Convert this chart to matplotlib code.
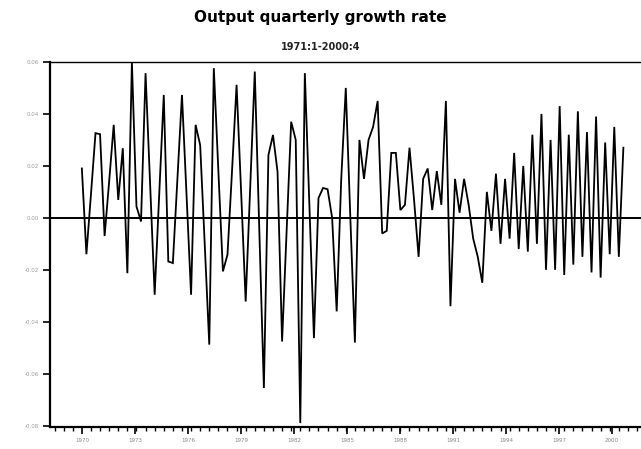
import matplotlib
matplotlib.use("Agg")
import matplotlib.pyplot as plt
from matplotlib.ticker import MultipleLocator
import numpy as np

title = "Output quarterly growth rate"
subtitle = "1971:1-2000:4"
start_year = 1971
growth = [
    0.019, -0.014, 0.009, 0.0326, 0.0322, -0.007, 0.014, 0.0358, 0.0069, 0.0268,
    -0.0213, 0.060, 0.0044, -0.0014, 0.0557, 0.013, -0.0296, 0.009, 0.0473, -0.0168,
    -0.0174, 0.015, 0.0473, 0.009, -0.0296, 0.0358, 0.028, -0.010, -0.0488, 0.0576,
    0.018, -0.0206, -0.0142, 0.018, 0.0512, 0.010, -0.0322, 0.012, 0.0563, -0.005,
    -0.0655, 0.0242, 0.0319, 0.0178, -0.0476, -0.005, 0.037, 0.030, -0.079, 0.0557,
    0.005, -0.0463, 0.0076, 0.0115, 0.011, 0.000, -0.036, 0.015, 0.050, 0.000,
    -0.048, 0.030, 0.015, 0.030, 0.035, 0.045, -0.006, -0.005, 0.025, 0.025,
    0.003, 0.005, 0.027, 0.007, -0.015, 0.015, 0.019, 0.003, 0.018, 0.005,
    0.045, -0.034, 0.015, 0.002, 0.015, 0.005, -0.008, -0.015, -0.025, 0.010,
    -0.005, 0.017, -0.010, 0.015, -0.008, 0.025, -0.012, 0.020, -0.013, 0.032,
    -0.010, 0.040, -0.020, 0.030, -0.020, 0.043, -0.022, 0.032, -0.018, 0.041,
    -0.015, 0.033, -0.021, 0.039, -0.023, 0.029, -0.014, 0.035, -0.015, 0.027,
]
y_ticks = [-0.08, -0.06, -0.04, -0.02, 0.00, 0.02, 0.04, 0.06]
y_tick_labels = ["-0.08", "-0.06", "-0.04", "-0.02", "0.00", "0.02", "0.04", "0.06"]
x_tick_labels = ["1970", "1973", "1976", "1979", "1982", "1985", "1988",
                 "1991", "1994", "1997", "2000"]

q = np.arange(len(growth))

fig = plt.figure(figsize=(6.41, 4.49), dpi=100)
ax = fig.add_axes([0.078, 0.049, 0.93, 0.813])
ax.plot(q, growth, color="black", lw=1.3, solid_joinstyle="miter")
ax.axhline(0, color="black", lw=1.4)

ax.set_xlim(-7, 124)
ax.set_ylim(-0.0805, 0.06)

ax.set_yticks(y_ticks)
ax.set_yticklabels(y_tick_labels, fontsize=4, color="#999999")
step = 11.65
ax.set_xticks([i * step for i in range(len(x_tick_labels))])
ax.set_xticklabels(x_tick_labels, fontsize=4, color="#888888")
ax.xaxis.set_minor_locator(MultipleLocator(2))
ax.tick_params(axis="x", which="major", length=5, width=1.2, direction="out", pad=3)
ax.tick_params(axis="x", which="minor", length=3, width=1.0, direction="out")
ax.tick_params(axis="y", which="major", length=5, width=1.2, direction="out", pad=3)

for s in ["left", "bottom"]:
    ax.spines[s].set_linewidth(1.6)
ax.spines["top"].set_linewidth(1.0)
ax.spines["right"].set_visible(False)

fig.text(0.5, 0.962, title, ha="center", va="center", fontsize=11,
         fontweight="bold", family="DejaVu Sans")
fig.text(0.5, 0.895, subtitle, ha="center", va="center", fontsize=7,
         fontweight="bold", color="#222222")

fig.savefig("out.png", dpi=100)
